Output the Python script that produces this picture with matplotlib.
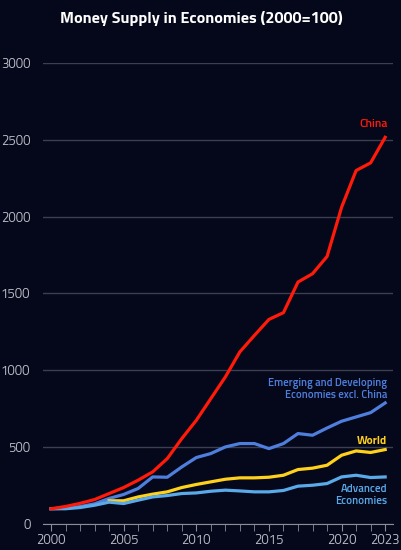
import matplotlib
matplotlib.use('Agg')
from matplotlib import pyplot as plt

years = list(range(2000, 2024))
china = [100, 115, 135, 160, 199, 238, 286, 340, 426, 556, 675, 816, 957, 1120,
         1227, 1331, 1375, 1574, 1628, 1740, 2060, 2299, 2349, 2515]
emerging = [100, 104, 114, 132, 167, 193, 232, 307, 305, 372, 433, 459, 502, 524,
            524, 491, 524, 589, 578, 625, 669, 697, 725, 788]
world_years = list(range(2004, 2024))
world = [152, 152, 177, 195, 210, 238, 258, 275, 292, 301,
         301, 305, 318, 355, 364, 383, 448, 476, 466, 485]
advanced = [100, 100, 108, 123, 143, 134, 156, 177, 186, 199, 203, 214, 221, 216,
            210, 210, 219, 247, 253, 264, 307, 318, 303, 307]

bg = '#05071a'
c_china = '#ff1a0a'
c_emerging = '#4f7fdc'
c_world = '#ffd11a'
c_adv = '#5aaaea'

plt.rcParams['font.family'] = ['Titillium Web', 'DejaVu Sans']

fig = plt.figure(figsize=(4.02, 5.5), dpi=100, facecolor=bg)
ax = fig.add_axes([0.107, 0.047, 0.871, 0.839], facecolor=bg)

lw = 2.3
ax.plot(years, emerging, color=c_emerging, lw=lw, zorder=3)
ax.plot(world_years, world, color=c_world, lw=lw, zorder=3)
ax.plot(years, advanced, color=c_adv, lw=lw, zorder=4)
ax.plot(years, china, color=c_china, lw=lw, zorder=5)

ax.set_xlim(1999.45, 2023.55)
ax.set_ylim(0, 3000)
ax.set_yticks([0, 500, 1000, 1500, 2000, 2500, 3000])
ax.set_xticks(years, minor=True)
ax.set_xticks([2000, 2005, 2010, 2015, 2020, 2023])
ax.grid(axis='y', color='#3c3f52', lw=1)
ax.set_axisbelow(True)
for s in ['top', 'right', 'left']:
    ax.spines[s].set_visible(False)
ax.spines['bottom'].set_color('#8a8c99')
ax.tick_params(axis='y', length=0, colors='#b8bac4', labelsize=9.5, pad=9)
ax.tick_params(axis='x', which='both', direction='out', length=5, color='#8a8c99',
               colors='#b8bac4', labelsize=9.5)
ax.tick_params(axis='x', which='major', pad=2)

# series labels at the right end
ax.text(2023.15, 2560, 'China', color=c_china, fontsize=8.6, ha='right', va='bottom',
        fontweight='semibold')
ax.text(2023.15, 800, 'Emerging and Developing\nEconomies excl. China', color=c_emerging,
        fontsize=7.8, ha='right', va='bottom', multialignment='right', linespacing=1.15,
        fontweight='semibold')
ax.text(2023.15, 510, 'World', color=c_world, fontsize=8.2, ha='right', va='bottom',
        fontweight='bold')
ax.text(2023.15, 260, 'Advanced\nEconomies', color=c_adv, fontsize=8, ha='right', va='top',
        multialignment='right', linespacing=1.15, fontweight='semibold')

fig.text(0.5, 0.967, 'Money Supply in Economies (2000=100)', color='white', fontsize=11.7,
         fontweight='bold', ha='center', va='center')

fig.savefig('out.png', dpi=100, facecolor=bg)
